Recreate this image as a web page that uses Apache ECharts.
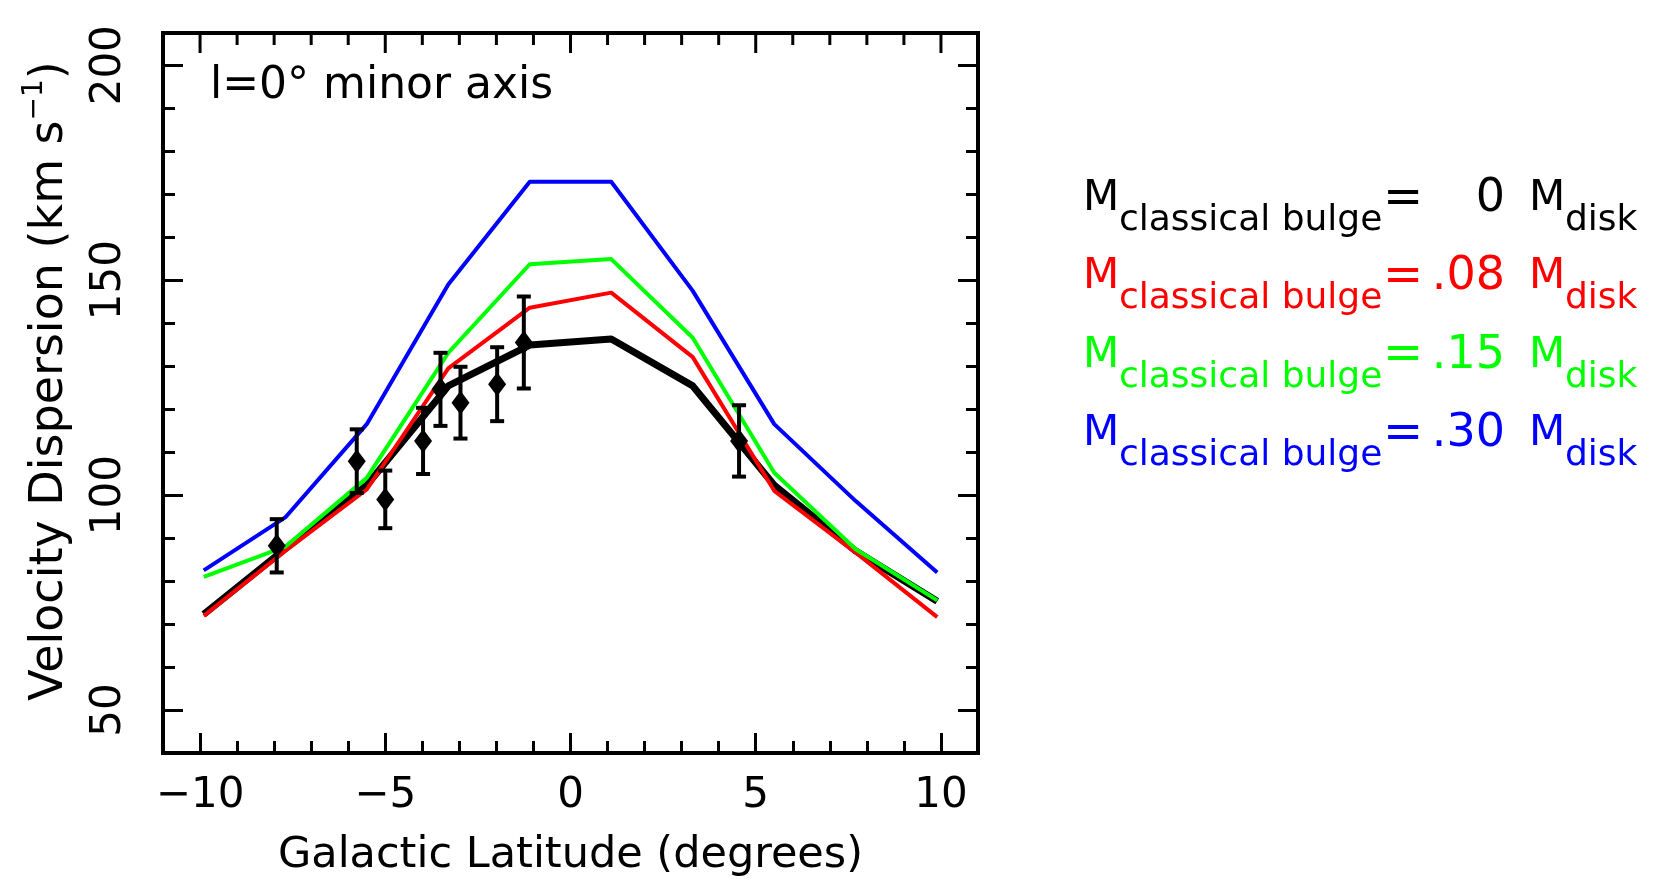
<!DOCTYPE html>
<html>
<head>
<meta charset="utf-8">
<script src="https://cdn.jsdelivr.net/npm/echarts@6/dist/echarts.min.js"></script>
<style>
html,body{margin:0;padding:0;background:#ffffff;}
#chart{width:1654px;height:879px;}
</style>
</head>
<body>
<div id="chart"></div>
<script>
// ---------------- data ----------------
const latitude   = [-9.9, -7.7, -5.5, -3.3, -1.1, 1.1, 3.3, 5.5, 7.7, 9.9];
const sigmaBulge0  = [72.3, 87.5, 102.3, 125.4, 134.9, 136.3, 125.4, 102.3, 87.0, 75.3];
const sigmaBulge08 = [71.9, 87.0, 101.3, 129.5, 143.6, 147.1, 132.1, 101.0, 86.6, 71.6];
const sigmaBulge15 = [81.0, 88.0, 104.0, 133.1, 153.7, 154.9, 136.6, 105.2, 87.4, 75.5];
const sigmaBulge30 = [82.5, 94.8, 116.5, 149.0, 172.9, 172.9, 147.5, 116.5, 98.6, 82.0];

const obsLatitude = [-7.93, -5.77, -5.0, -3.98, -3.51, -2.97, -1.98, -1.26, 4.55];
const obsSigma    = [88.2, 107.9, 99.0, 112.6, 124.6, 121.5, 125.8, 135.5, 112.6];
const obsError    = [6.2, 7.4, 6.7, 7.7, 8.5, 8.35, 8.6, 10.7, 8.3];

const modelFractions = ['0', '.08', '.15', '.30'];
const modelColors    = ['#000000', '#ff0000', '#00ff00', '#0000ff'];

const xTickLabels = [-10, -5, 0, 5, 10];
const xMinorTicks = [-9, -8, -7, -6, -4, -3, -2, -1, 1, 2, 3, 4, 6, 7, 8, 9];
const yTickLabels = [50, 100, 150, 200];

const xAxisTitle = 'Galactic Latitude (degrees)';
const yAxisTitleMain = 'Velocity Dispersion (km s';
const yAxisTitleSup = '\u22121';
const panelNote = 'l=0\u00b0 minor axis';

// ---------------- chart ----------------
const FONT = 'DejaVu Sans';
const X_MIN = -11, X_MAX = 11, Y_MIN = 40, Y_MAX = 207.5;
const GRID = {left: 163, top: 33, width: 815, height: 720};
const MAJOR_LEN = 20, MINOR_LEN = 12;

function fmtX(v) { return v < 0 ? '\u2212' + Math.abs(v) : String(v); }

function tick(len) { return {show: true, inside: true, length: len, lineStyle: {color: '#000', width: 3}}; }
function noLine() { return {show: false, onZero: false}; }
function noSplit() { return {show: false}; }

const xAxes = [
  { // bottom major, labels + title (data axis)
    type: 'value', gridIndex: 0, position: 'bottom', min: X_MIN, max: X_MAX,
    axisLine: noLine(), splitLine: noSplit(),
    axisTick: Object.assign({customValues: xTickLabels}, tick(MAJOR_LEN)),
    axisLabel: {customValues: xTickLabels, formatter: fmtX, color: '#000', fontFamily: FONT, fontSize: 42,
                margin: 43, verticalAlign: 'middle'},
    name: xAxisTitle, nameLocation: 'middle', nameGap: 103,
    nameTextStyle: {color: '#000', fontFamily: FONT, fontSize: 43, verticalAlign: 'middle'}
  },
  { // bottom minor
    type: 'value', gridIndex: 1, position: 'bottom', min: X_MIN, max: X_MAX, interval: 1,
    axisLine: noLine(), splitLine: noSplit(), axisTick: tick(MINOR_LEN), axisLabel: {show: false}
  }
];

const yAxes = [
  { // left major, labels + title (data axis)
    type: 'value', gridIndex: 0, position: 'left', min: Y_MIN, max: Y_MAX,
    axisLine: noLine(), splitLine: noSplit(),
    axisTick: Object.assign({customValues: yTickLabels}, tick(MAJOR_LEN)),
    axisLabel: {customValues: yTickLabels, rotate: 90, color: '#000', fontFamily: FONT, fontSize: 42, margin: 33},
    name: '{t|' + yAxisTitleMain + '}{s|' + yAxisTitleSup + '}{t|)}',
    nameLocation: 'middle', nameRotate: 90, nameGap: 90,
    nameTextStyle: {
      color: '#000', fontFamily: FONT, fontSize: 46, padding: [0, 0, 0, 24],
      rich: {
        t: {color: '#000', fontFamily: FONT, fontSize: 46, lineHeight: 52, verticalAlign: 'bottom'},
        s: {color: '#000', fontFamily: FONT, fontSize: 28, lineHeight: 52, verticalAlign: 'top'}
      }
    }
  },
  { // right major
    type: 'value', gridIndex: 0, position: 'right', min: Y_MIN, max: Y_MAX,
    axisLine: noLine(), splitLine: noSplit(),
    axisTick: Object.assign({customValues: yTickLabels}, tick(MAJOR_LEN)),
    axisLabel: {show: false}
  },
  { // left minor
    type: 'value', gridIndex: 1, position: 'left', min: Y_MIN, max: Y_MAX, interval: 10,
    axisLine: noLine(), splitLine: noSplit(), axisTick: tick(MINOR_LEN), axisLabel: {show: false}
  },
  { // right minor
    type: 'value', gridIndex: 1, position: 'right', min: Y_MIN, max: Y_MAX, interval: 10,
    axisLine: noLine(), splitLine: noSplit(), axisTick: tick(MINOR_LEN), axisLabel: {show: false}
  }
];

function pairs(xs, ys) { return xs.map((x, i) => [x, ys[i]]); }

const modelSeries = [sigmaBulge0, sigmaBulge08, sigmaBulge15, sigmaBulge30].map((vals, i) => ({
  type: 'line',
  name: 'M_classical bulge = ' + modelFractions[i] + ' M_disk',
  xAxisIndex: 0, yAxisIndex: 0,
  data: pairs(latitude, vals),
  symbol: 'none', showSymbol: false,
  lineStyle: {color: modelColors[i], width: i === 0 ? 7 : 4, join: 'round'},
  itemStyle: {color: modelColors[i]},
  z: 2 + i,
  silent: true, animation: false
}));

const errorSeries = {
  type: 'custom',
  name: 'observed errors',
  xAxisIndex: 0, yAxisIndex: 0,
  data: obsLatitude.map((x, i) => [x, obsSigma[i], obsError[i]]),
  renderItem: function (params, api) {
    const x = api.value(0), y = api.value(1), e = api.value(2);
    const top = api.coord([x, y + e]);
    const bot = api.coord([x, y - e]);
    const cw = 7;
    const st = {stroke: '#000', lineWidth: 4};
    return {
      type: 'group',
      children: [
        {type: 'line', shape: {x1: top[0], y1: top[1], x2: bot[0], y2: bot[1]}, style: st},
        {type: 'line', shape: {x1: top[0] - cw, y1: top[1], x2: top[0] + cw, y2: top[1]}, style: st},
        {type: 'line', shape: {x1: bot[0] - cw, y1: bot[1], x2: bot[0] + cw, y2: bot[1]}, style: st}
      ]
    };
  },
  z: 8, silent: true, animation: false
};

const pointSeries = {
  type: 'scatter',
  name: 'observed',
  xAxisIndex: 0, yAxisIndex: 0,
  data: pairs(obsLatitude, obsSigma),
  symbol: 'diamond', symbolSize: [18, 24],
  itemStyle: {color: '#000', opacity: 1},
  z: 9, silent: true, animation: false
};

// tick marks hanging down from the top frame edge, drawn as short line series in axis units
const UNITS_PER_PX = (Y_MAX - Y_MIN) / GRID.height;
function topTickLines(values, lenPx) {
  return values.map(v => ({
    type: 'line',
    xAxisIndex: 0, yAxisIndex: 0,
    data: [[v, Y_MAX], [v, Y_MAX - lenPx * UNITS_PER_PX]],
    symbol: 'none', showSymbol: false,
    lineStyle: {color: '#000', width: 3},
    itemStyle: {color: '#000'},
    z: 10, silent: true, animation: false, clip: false,
    tooltip: {show: false}
  }));
}

// legend block as text (M_classical bulge = f M_disk)
const graphics = [];
const LG_CAP0 = 199.2, LG_STEP = 78.3, SUB_DY = 21.6;
modelFractions.forEach((f, i) => {
  const cy = LG_CAP0 + i * LG_STEP;
  const col = modelColors[i];
  const big = {fontFamily: FONT, fontSize: 42, fill: col, verticalAlign: 'middle'};
  const small = {fontFamily: FONT, fontSize: 36, fill: col, verticalAlign: 'middle'};
  graphics.push({type: 'text', x: 1083, y: cy, style: Object.assign({text: 'M', align: 'left'}, big)});
  graphics.push({type: 'text', x: 1119, y: cy + SUB_DY, style: Object.assign({text: 'classical bulge', align: 'left'}, small)});
  graphics.push({type: 'text', x: 1383, y: cy, style: Object.assign({text: '=', align: 'left'}, big, {fontSize: 48})});
  graphics.push({type: 'text', x: 1505, y: cy, style: Object.assign({text: f, align: 'right'}, big, {fontSize: 46})});
  graphics.push({type: 'text', x: 1529, y: cy, style: Object.assign({text: 'M', align: 'left'}, big)});
  graphics.push({type: 'text', x: 1565, y: cy + SUB_DY, style: Object.assign({text: 'disk', align: 'left'}, small)});
});
graphics.push({type: 'text', x: 210, y: 86.5,
  style: {text: panelNote, fontFamily: FONT, fontSize: 44, fill: '#000', align: 'left', verticalAlign: 'middle'}});

const gridBase = {containLabel: false, outerBoundsMode: 'none'};
const option = {
  backgroundColor: '#ffffff',
  animation: false,
  grid: [
    Object.assign({show: true, borderColor: '#000', borderWidth: 4, backgroundColor: 'transparent'}, gridBase, GRID),
    Object.assign({show: false}, gridBase, GRID)
  ],
  xAxis: xAxes,
  yAxis: yAxes,
  series: modelSeries.concat([errorSeries, pointSeries],
                             topTickLines(xTickLabels, MAJOR_LEN),
                             topTickLines(xMinorTicks, MINOR_LEN)),
  graphic: graphics
};

const chart = echarts.init(document.getElementById('chart'), null, {renderer: 'canvas'});
chart.setOption(option);
</script>
</body>
</html>
